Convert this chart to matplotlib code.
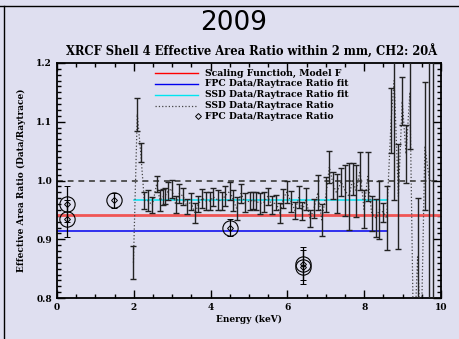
import numpy as np
import matplotlib
matplotlib.use("Agg")
import matplotlib.pyplot as plt
from matplotlib.lines import Line2D
from matplotlib.ticker import MultipleLocator

# --- data ---
ssd_energy = [1.99, 2.09, 2.18,
              2.274, 2.361, 2.483, 2.595, 2.682, 2.752, 2.813, 2.899, 2.986, 3.090,
              3.186, 3.290, 3.377, 3.481, 3.594, 3.681, 3.785, 3.880, 3.984, 4.071,
              4.184, 4.288, 4.375, 4.505, 4.592, 4.679, 4.792, 4.896, 5.026, 5.095,
              5.182, 5.286, 5.391, 5.486, 5.590, 5.703, 5.807, 5.894, 5.981, 6.094,
              6.198, 6.302, 6.389, 6.484, 6.589, 6.693, 6.797, 6.892, 7.005, 7.092,
              7.196, 7.283, 7.396, 7.500, 7.604, 7.700, 7.786, 7.891, 7.995, 8.090,
              8.194, 8.307, 8.394, 8.498, 8.585,
              8.70, 8.78, 8.89, 8.99, 9.09, 9.19, 9.29, 9.39, 9.48, 9.58, 9.70, 9.80]
ssd_ratio = [0.860, 1.113, 1.047,
             0.966, 0.966, 0.958, 0.994, 0.966, 0.972, 0.974, 0.982, 0.986, 0.959,
             0.978, 0.973, 0.956, 0.964, 0.944, 0.960, 0.970, 0.965, 0.965, 0.972,
             0.967, 0.965, 0.974, 0.982, 0.966, 0.952, 0.978, 0.963, 0.965, 0.966,
             0.965, 0.961, 0.963, 0.973, 0.958, 0.963, 0.944, 0.970, 0.980, 0.964,
             0.949, 0.972, 0.948, 0.968, 0.935, 0.953, 0.980, 0.933, 0.976, 1.023,
             0.992, 0.978, 0.998, 0.983, 0.973, 1.002, 0.982, 1.016, 0.951, 1.007,
             0.944, 0.936, 0.950, 0.946, 0.936,
             1.102, 1.170, 0.973, 1.135, 1.045, 1.150, 0.700, 0.870, 0.720, 1.058, 1.000, 1.000]
ssd_err = [0.028, 0.028, 0.016,
           0.014, 0.018, 0.014, 0.014, 0.018, 0.014, 0.014, 0.016, 0.015, 0.015,
           0.016, 0.015, 0.013, 0.015, 0.017, 0.014, 0.016, 0.015, 0.016, 0.016,
           0.017, 0.016, 0.017, 0.016, 0.018, 0.020, 0.016, 0.016, 0.015, 0.014,
           0.016, 0.018, 0.017, 0.015, 0.015, 0.013, 0.017, 0.016, 0.019, 0.018,
           0.014, 0.018, 0.016, 0.019, 0.014, 0.016, 0.030, 0.027, 0.030, 0.028,
           0.023, 0.033, 0.024, 0.043, 0.057, 0.027, 0.044, 0.033, 0.032, 0.042,
           0.030, 0.032, 0.050, 0.016, 0.055,
           0.055, 0.204, 0.089, 0.041, 0.049, 0.096, 0.050, 0.100, 0.050, 0.109, 0.500, 0.500]

fpc_energy = [0.25, 0.25, 1.49, 4.50, 6.41, 6.41]
fpc_ratio = [0.960, 0.935, 0.966, 0.920, 0.858, 0.853]
fpc_err = [0.031, 0.031, 0.012, 0.015, 0.028, 0.029]

scaling_level = 0.9405          # Scaling Function, Model F
fpc_fit_level = 0.9145
fpc_fit_range = [0.0, 8.6]
ssd_fit_level = 0.9675
ssd_fit_range = [2.0, 8.6]

legend_labels = ["Scaling Function, Model F",
                 "FPC Data/Raytrace Ratio fit",
                 "SSD Data/Raytrace Ratio fit",
                 "SSD Data/Raytrace Ratio",
                 "FPC Data/Raytrace Ratio"]

bg = "#dfdff0"
serif = {"family": "DejaVu Serif", "weight": "bold"}

fig = plt.figure(figsize=(4.59, 3.39), dpi=100, facecolor=bg)
ax = fig.add_axes([0.1242, 0.1209, 0.8366, 0.6933], facecolor=bg)

# fit lines
ax.axhline(1.0, color="#555555", lw=1.4, ls=(0, (3, 2.5)), zorder=1)
ax.axhline(scaling_level, color="#f05555", lw=2.0, zorder=2)
ax.plot(fpc_fit_range, [fpc_fit_level] * 2, color="#0000ee", lw=1.1, zorder=2)
ax.plot(ssd_fit_range, [ssd_fit_level] * 2, color="#00e5f0", lw=1.1, zorder=2)

# SSD ratio
ax.plot(ssd_energy, ssd_ratio, color="#444444", ls=":", lw=0.9, zorder=3)
ax.errorbar(ssd_energy, ssd_ratio, yerr=ssd_err, fmt="none", ecolor="#222222",
            elinewidth=1.0, capsize=2.2, capthick=1.0, zorder=3)

# FPC ratio
ax.errorbar(fpc_energy, fpc_ratio, yerr=fpc_err, fmt="D", ms=3, mfc="none",
            mec="black", mew=0.7, ecolor="black", elinewidth=0.9, capsize=2,
            capthick=0.9, zorder=4)
ax.plot(fpc_energy, fpc_ratio, "o", ms=11, mfc="none", mec="black", mew=0.8, zorder=4)

ax.set_xlim(0, 10)
ax.set_ylim(0.8, 1.2)
ax.xaxis.set_major_locator(MultipleLocator(2))
ax.xaxis.set_minor_locator(MultipleLocator(0.5))
ax.yaxis.set_major_locator(MultipleLocator(0.1))
ax.yaxis.set_minor_locator(MultipleLocator(0.01))
ax.tick_params(which="both", direction="in", top=True, right=True, width=1.0)
ax.tick_params(which="major", length=6)
ax.tick_params(which="minor", length=3)
ax.set_xticks([0, 2, 4, 6, 8, 10])
ax.set_xticklabels(["0", "2", "4", "6", "8", "10"], fontsize=6.5, **serif)
ax.set_yticks([0.8, 0.9, 1.0, 1.1, 1.2])
ax.set_yticklabels(["0.8", "0.9", "1.0", "1.1", "1.2"], fontsize=6.5, **serif)
for s in ax.spines.values():
    s.set_linewidth(1.3)

ax.set_xlabel("Energy (keV)", fontsize=6.5, labelpad=2, **serif)
ax.set_ylabel("Effective Area Ratio (Data/Raytrace)", fontsize=6.5, labelpad=7, **serif)

# legend drawn by hand (marker sits at end of the line slot)
x0, x1, xt = 0.255, 0.367, 0.385
rows = [0.957, 0.911, 0.864, 0.817, 0.774]
styles = [dict(color="red", lw=1.0), dict(color="#0000ee", lw=1.0),
          dict(color="#00e5f0", lw=1.0), dict(color="#444444", lw=0.9, ls=":")]
for y, lab, st in zip(rows[:4], legend_labels[:4], styles):
    ax.add_line(Line2D([x0, x1], [y, y], transform=ax.transAxes, **st))
    ax.text(xt, y, lab, transform=ax.transAxes, fontsize=6.7, va="center", **serif)
ax.add_line(Line2D([x1], [rows[4]], transform=ax.transAxes, marker="D", ms=3,
                   mfc="none", mec="black", mew=0.7, ls="none"))
ax.text(xt, rows[4], legend_labels[4], transform=ax.transAxes, fontsize=6.7,
        va="center", **serif)

# titles
fig.text(0.51, 0.932, "2009", fontsize=19, ha="center", va="center",
         family="DejaVu Sans")
fig.text(0.548, 0.847, "XRCF Shell 4 Effective Area Ratio within 2 mm, CH2: 20Å",
         fontsize=8.3, ha="center", va="center", **serif)

# page frame lines
fig.add_artist(Line2D([0, 1], [1 - 6 / 339, 1 - 6 / 339], color="black", lw=1.0))
fig.add_artist(Line2D([4 / 459, 4 / 459], [0, 1 - 6 / 339], color="black", lw=1.0))

plt.savefig("out.png", dpi=100, facecolor=bg)
